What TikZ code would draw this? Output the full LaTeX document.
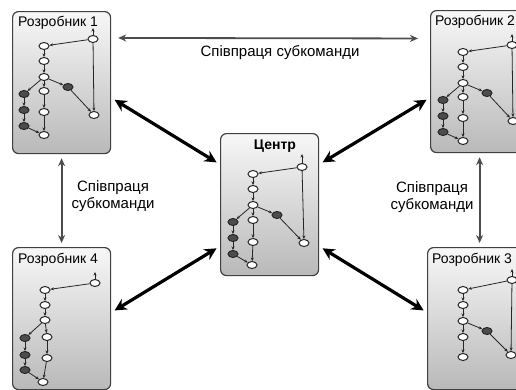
\documentclass[tikz,border=0pt]{standalone}
\usepackage{fontspec}
\setmainfont{Liberation Sans}
\usetikzlibrary{shapes.geometric,arrows.meta}

\begin{document}
\begin{tikzpicture}[x=1pt,y=-1pt,
  devbox/.style={draw=black!75,line width=1.2pt,rounded corners=6pt,top color=gray!6,bottom color=gray!55,minimum width=98pt,minimum height=142pt,anchor=north west,inner sep=0pt},
  leaf/.style={ellipse,draw=black!85,line width=1pt,fill=white,minimum width=10pt,minimum height=7pt,inner sep=0pt},
  darkleaf/.style={leaf,fill=black!70},
  link/.style={draw=black!85,line width=0.8pt,-{Stealth[length=3.5pt,width=3pt]}},
  team/.style={draw=gray!60!black,line width=1.8pt,{Stealth[length=8pt,width=7pt]}-{Stealth[length=8pt,width=7pt]}},
  hub/.style={draw=black,line width=3.2pt,{Stealth[length=12pt,width=12pt]}-{Stealth[length=12pt,width=12pt]},shorten <=4pt,shorten >=4pt},
  title/.style={font=\fontsize{14}{16}\selectfont,inner sep=0pt,anchor=west},
  note/.style={font=\fontsize{15}{17.5}\selectfont,align=center,inner sep=0pt}]
\useasboundingbox (0,0) rectangle (516,389);
\clip (0,0) rectangle (516,389);

% boxes
\node[devbox] (dev1) at (12,11) {};
\node[devbox] (dev2) at (430,10) {};
\node[devbox] (dev3) at (427,247) {};
\node[devbox] (dev4) at (12,247) {};
\node[devbox] (hub) at (220,133) {};
\node[title] (lab1) at (18,23) {Розробник 1};
\node[title] (lab2) at (435,22) {Розробник 2};
\node[title] (lab3) at (432,260) {Розробник 3};
\node[title] (lab4) at (18,260) {Розробник 4};
\node[title,font=\fontsize{14}{16}\selectfont\bfseries,anchor=center] (labhub) at (275,146) {Центр};

% tree 1
\begin{scope}[shift={(11,6)}]
\node[leaf] (p1a) at (82,33) {};
\node[leaf] (p1b) at (33,40) {};
\node[leaf] (p1c) at (33,55) {};
\node[leaf] (p1d) at (33,71) {};
\node[darkleaf] (p1f) at (57,81) {};
\node[leaf] (p1g) at (83,109) {};
\node[darkleaf] (p1h) at (13,88) {};
\node[darkleaf] (p1i) at (13,104) {};
\node[darkleaf] (p1j) at (13,120) {};
\node[leaf] (p1k) at (33,85) {};
\node[leaf] (p1l) at (33,106) {};
\node[leaf] (p1m) at (33,129) {};
\coordinate (p1top) at (82,22);
\end{scope}
\draw[link] (p1a) -- (p1top);
\draw[link] (p1a) -- (p1b);
\draw[link] (p1b) -- (p1c);
\draw[link] (p1c) -- (p1d);
\draw[link] (p1d) -- (p1f);
\draw[link] (p1f) -- (p1g);
\draw[link] (p1a) -- (p1g);
\draw[link] (p1d) -- (p1h);
\draw[link] (p1h) -- (p1i);
\draw[link] (p1i) -- (p1j);
\draw[link] (p1j) -- (p1m);
\draw[link] (p1d) -- (p1k);
\draw[link] (p1k) -- (p1l);
\draw[link] (p1l) -- (p1m);

% tree 2
\begin{scope}[shift={(430,12)}]
\node[leaf] (p2a) at (82,33) {};
\node[leaf] (p2b) at (33,40) {};
\node[leaf] (p2c) at (33,55) {};
\node[leaf] (p2d) at (33,71) {};
\node[darkleaf] (p2f) at (57,81) {};
\node[leaf] (p2g) at (83,109) {};
\node[darkleaf] (p2h) at (13,88) {};
\node[darkleaf] (p2i) at (13,104) {};
\node[darkleaf] (p2j) at (13,120) {};
\node[leaf] (p2k) at (33,85) {};
\node[leaf] (p2l) at (33,106) {};
\node[leaf] (p2m) at (33,129) {};
\coordinate (p2top) at (82,22);
\end{scope}
\draw[link] (p2a) -- (p2top);
\draw[link] (p2a) -- (p2b);
\draw[link] (p2b) -- (p2c);
\draw[link] (p2c) -- (p2d);
\draw[link] (p2d) -- (p2f);
\draw[link] (p2f) -- (p2g);
\draw[link] (p2a) -- (p2g);
\draw[link] (p2d) -- (p2h);
\draw[link] (p2h) -- (p2i);
\draw[link] (p2i) -- (p2j);
\draw[link] (p2j) -- (p2m);
\draw[link] (p2d) -- (p2k);
\draw[link] (p2k) -- (p2l);
\draw[link] (p2l) -- (p2m);

% tree 3
\begin{scope}[shift={(430,247)}]
\node[leaf] (p3a) at (82,33) {};
\node[leaf] (p3b) at (33,43) {};
\node[leaf] (p3c) at (33,58) {};
\node[leaf] (p3d) at (33,74) {};
\node[darkleaf] (p3f) at (57,84) {};
\node[leaf] (p3g) at (81,108) {};
\node[leaf] (p3k) at (33,90) {};
\node[leaf] (p3l) at (33,110) {};
\coordinate (p3top) at (82,22);
\end{scope}
\draw[link] (p3a) -- (p3top);
\draw[link] (p3a) -- (p3b);
\draw[link] (p3b) -- (p3c);
\draw[link] (p3c) -- (p3d);
\draw[link] (p3d) -- (p3f);
\draw[link] (p3f) -- (p3g);
\draw[link] (p3a) -- (p3g);
\draw[link] (p3d) -- (p3k);
\draw[link] (p3k) -- (p3l);

% tree 4
\begin{scope}[shift={(12,250)}]
\node[leaf] (p4a) at (83,33) {};
\node[leaf] (p4b) at (33,40) {};
\node[leaf] (p4c) at (33,55) {};
\node[leaf] (p4d) at (33,70) {};
\node[darkleaf] (p4h) at (13,88) {};
\node[darkleaf] (p4i) at (13,105) {};
\node[darkleaf] (p4j) at (13,120) {};
\node[leaf] (p4k) at (35,87) {};
\node[leaf] (p4l) at (35,108) {};
\node[leaf] (p4m) at (31,132) {};
\coordinate (p4top) at (83,22);
\end{scope}
\draw[link] (p4a) -- (p4top);
\draw[link] (p4a) -- (p4b);
\draw[link] (p4b) -- (p4c);
\draw[link] (p4c) -- (p4d);
\draw[link] (p4d) -- (p4h);
\draw[link] (p4h) -- (p4i);
\draw[link] (p4i) -- (p4j);
\draw[link] (p4j) -- (p4m);
\draw[link] (p4d) -- (p4k);
\draw[link] (p4k) -- (p4l);
\draw[link] (p4l) -- (p4m);

% tree of the centre
\begin{scope}[shift={(220,134)}]
\node[leaf] (p0a) at (82,33) {};
\node[leaf] (p0b) at (33,40) {};
\node[leaf] (p0c) at (33,55) {};
\node[leaf] (p0d) at (33,71) {};
\node[darkleaf] (p0f) at (57,81) {};
\node[leaf] (p0g) at (84,109) {};
\node[darkleaf] (p0h) at (13,88) {};
\node[darkleaf] (p0i) at (13,104) {};
\node[darkleaf] (p0j) at (13,120) {};
\node[leaf] (p0k) at (33,86) {};
\node[leaf] (p0l) at (33,108) {};
\node[leaf] (p0m) at (32,131) {};
\coordinate (p0top) at (82,20);
\end{scope}
\draw[link] (p0a) -- (p0top);
\draw[link] (p0a) -- (p0b);
\draw[link] (p0b) -- (p0c);
\draw[link] (p0c) -- (p0d);
\draw[link] (p0d) -- (p0f);
\draw[link] (p0f) -- (p0g);
\draw[link] (p0a) -- (p0g);
\draw[link] (p0d) -- (p0h);
\draw[link] (p0h) -- (p0i);
\draw[link] (p0i) -- (p0j);
\draw[link] (p0j) -- (p0m);
\draw[link] (p0d) -- (p0k);
\draw[link] (p0k) -- (p0l);
\draw[link] (p0l) -- (p0m);

% subteam cooperation
\draw[team,shorten <=7pt,shorten >=12pt] (dev1.42) -- (dev2.139);
\draw[team,shorten <=4pt,shorten >=4pt] (dev1.south) -- (dev4.north);
\draw[team,shorten <=4pt,shorten >=4pt] (dev2.south) -- (dev2.south |- dev3.north);
\node[note] (coop) at (280,53) {Співпраця субкоманди};
\node[note] (coopl) at (113,196) {Співпраця\\субкоманди};
\node[note] (coopr) at (432,197) {Співпраця\\субкоманди};

% links to the centre
\draw[hub] (dev1.-17) -- (hub.141);
\draw[hub] (dev2.198) -- (hub.39);
\draw[hub] (dev4.7) -- (hub.220);
\draw[hub] (dev3.173) -- (hub.-40);
\end{tikzpicture}
\end{document}
